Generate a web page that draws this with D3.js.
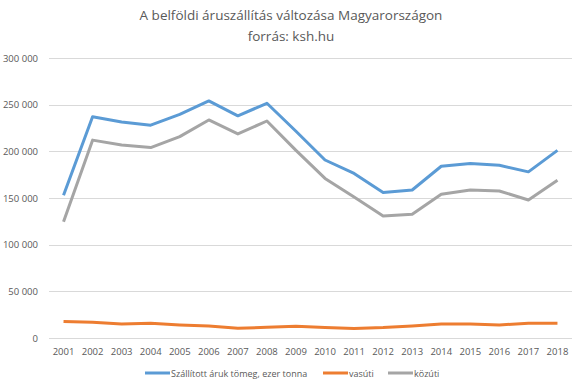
<!DOCTYPE html>
<html>
<head>
<meta charset="utf-8">
<script src="https://cdn.jsdelivr.net/npm/d3@7"></script>
<style>
  body { margin: 0; background: #fff; }
  text { font-family: "Open Sans", "Liberation Sans", sans-serif; fill: #595959; }
</style>
</head>
<body>
<div id="chart"></div>
<script>
var years = ["2001", "2002", "2003", "2004", "2005", "2006", "2007", "2008", "2009",
  "2010", "2011", "2012", "2013", "2014", "2015", "2016", "2017", "2018"];
var osszes = [153000, 237000, 231500, 228000, 239500, 254000, 238000, 251500, 221500,
  190700, 176300, 156000, 158600, 184000, 187000, 185000, 178000, 201000];
var vasuti = [17800, 16800, 15000, 15700, 14000, 12900, 10400, 11500, 12500,
  11200, 10200, 11200, 12900, 15000, 15000, 14000, 15700, 15800];
var kozuti = [124600, 212000, 206800, 204000, 215800, 233600, 218600, 232500, 201000,
  171000, 151000, 130700, 132500, 154000, 158600, 157500, 147900, 169000];
var yTicks = [0, 50000, 100000, 150000, 200000, 250000, 300000];
var seriesNames = ["Szállított áruk tömeg, ezer tonna", "vasúti", "közúti"];
var colors = ["#5B9BD5", "#ED7D31", "#A5A5A5"];

var svgWidth = 583, svgHeight = 387;
var margin = { top: 58, right: 11, bottom: 49, left: 49 };
var width = svgWidth - margin.left - margin.right;
var height = svgHeight - margin.top - margin.bottom;

var svg = d3.select("#chart").append("svg")
  .attr("width", svgWidth)
  .attr("height", svgHeight);

svg.append("text")
  .attr("x", 291).attr("y", 20)
  .attr("text-anchor", "middle")
  .style("font-size", "13.5px")
  .text("A belföldi áruszállítás változása Magyarországon");
svg.append("text")
  .attr("x", 291).attr("y", 41)
  .attr("text-anchor", "middle")
  .style("font-size", "13.5px")
  .text("forrás: ksh.hu");

var chartGroup = svg.append("g")
  .attr("transform", `translate(${margin.left}, ${margin.top})`);

var xScale = d3.scaleBand().domain(years).range([0, width]);
var yScale = d3.scaleLinear().domain([0, 300000]).range([height, 0]);

var fmt = function(d) { return d3.format(",")(d).replace(/,/g, " "); };

// gridlines
chartGroup.append("g")
  .selectAll("line")
  .data(yTicks)
  .enter()
  .append("line")
  .attr("x1", 0).attr("x2", width)
  .attr("y1", d => Math.round(yScale(d)) + 0.5)
  .attr("y2", d => Math.round(yScale(d)) + 0.5)
  .attr("stroke", "#D9D9D9")
  .attr("stroke-width", 1);

var yAxis = d3.axisLeft(yScale).tickValues(yTicks).tickFormat(fmt).tickSize(0).tickPadding(11);
chartGroup.append("g").call(yAxis)
  .call(g => g.select(".domain").remove())
  .selectAll("text").style("font-size", "9.5px").attr("fill", "#595959");

var xAxis = d3.axisBottom(xScale).tickSize(0).tickPadding(10);
chartGroup.append("g")
  .attr("transform", `translate(0, ${height})`)
  .call(xAxis)
  .call(g => g.select(".domain").remove())
  .selectAll("text").style("font-size", "9.5px").attr("fill", "#595959");

var line = d3.line()
  .x((d, i) => xScale(years[i]) + xScale.bandwidth() / 2)
  .y(d => yScale(d));

[osszes, vasuti, kozuti].forEach(function(data, i) {
  chartGroup.append("path")
    .datum(data)
    .attr("d", line)
    .attr("fill", "none")
    .attr("stroke", colors[i])
    .attr("stroke-width", 3)
    .attr("stroke-linejoin", "round");
});

// legend
var legendX = [145, 323, 388];
var legend = svg.append("g");
seriesNames.forEach(function(name, i) {
  legend.append("line")
    .attr("x1", legendX[i]).attr("x2", legendX[i] + 25)
    .attr("y1", 373).attr("y2", 373)
    .attr("stroke", colors[i])
    .attr("stroke-width", 3);
  legend.append("text")
    .attr("x", legendX[i] + 26).attr("y", 376.5)
    .style("font-size", "9px")
    .text(name);
});
</script>
</body>
</html>
